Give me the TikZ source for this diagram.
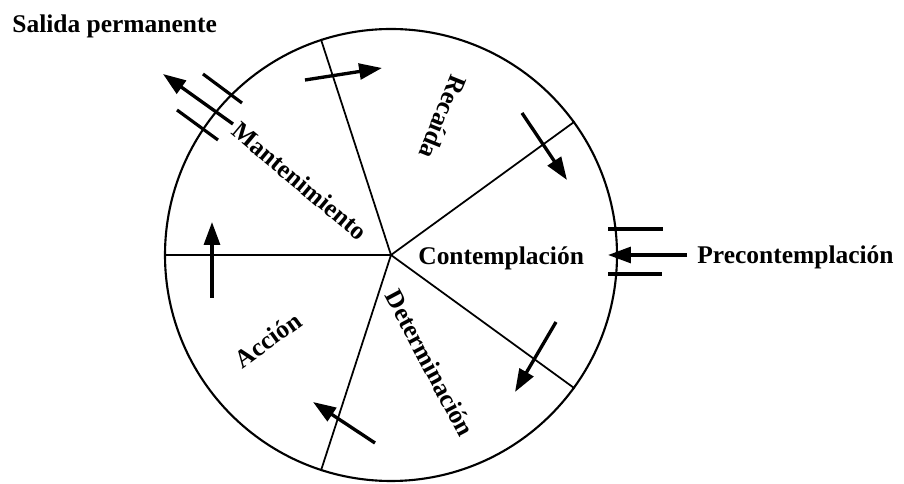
\documentclass[tikz,border=0pt]{standalone}
\usepackage{fontspec}
\setmainfont{Liberation Serif}
\usetikzlibrary{arrows.meta}
\tikzset{
  stage/.style={font=\fontsize{14.5}{17}\selectfont\bfseries, inner sep=0pt},
  flow/.style={line width=1.9pt, -{Triangle[length=13pt, width=9pt]}},
  gate/.style={line width=1.8pt},
}

\begin{document}
\begin{tikzpicture}
  \useasboundingbox (-7.82,-4.58) rectangle (10.26,5.10);
  \node[circle, draw, line width=1.2pt, minimum size=9.04cm, inner sep=0pt] (wheel) at (0,0) {};
  \foreach \a in {180,108,36,324,252}
    \draw[line width=1pt] (wheel.center) -- (wheel.\a);

  % stages
  \node[stage, rotate=-40] (mant) at (-1.82,1.48) {Mantenimiento};
  \node[stage, rotate=-112] (reca) at (1.04,2.76) {Recaída};
  \node[stage, anchor=base west] (cont) at (0.54,-0.20) {Contemplación};
  \node[stage, rotate=-62] (dete) at (0.78,-2.16) {Determinación};
  \node[stage, rotate=36] (acci) at (-2.46,-1.70) {Acción};
  \node[stage, anchor=base west] (prec) at (6.12,-0.18) {Precontemplación};
  \node[stage, anchor=base west] (sali) at (-7.58,4.44) {Salida permanente};

  % turning arrows
  \coordinate (t1) at (-1.72,3.50);  \coordinate (h1) at (-0.18,3.74);
  \coordinate (t2) at (2.62,2.84);   \coordinate (h2) at (3.52,1.50);
  \coordinate (t3) at (3.30,-1.34);  \coordinate (h3) at (2.48,-2.74);
  \coordinate (t4) at (-0.32,-3.76); \coordinate (h4) at (-1.56,-2.94);
  \coordinate (t5) at (-3.58,-0.86); \coordinate (h5) at (-3.58,0.66);
  \foreach \i in {1,...,5}
    \draw[flow] (t\i) -- (h\i);

  % way in
  \coordinate (inT) at (5.92,0);    \coordinate (inH) at (4.34,0);
  \draw[flow] (inT) -- (inH);
  \draw[gate] (4.34,0.52) -- (5.44,0.52);
  \draw[gate] (4.34,-0.38) -- (5.42,-0.38);

  % way out
  \coordinate (outT) at (-3.16,2.62); \coordinate (outH) at (-4.56,3.62);
  \draw[flow] (outT) -- (outH);
  \draw[gate] (-3.76,3.62) -- (-2.98,3.04);
  \draw[gate] (-4.28,2.90) -- (-3.46,2.30);
\end{tikzpicture}
\end{document}
